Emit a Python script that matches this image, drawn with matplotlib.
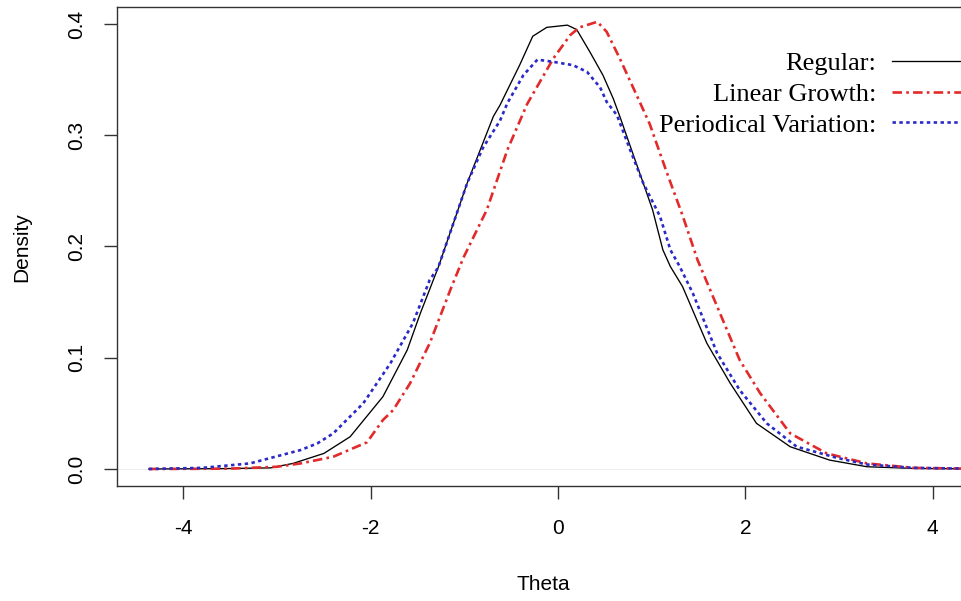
import matplotlib
matplotlib.use("Agg")
import matplotlib.pyplot as plt

## Density curves (x = Theta, y = Density)
reg_x = [-4.37, -3.6, -3.07, -2.83, -2.5, -2.22, -1.87, -1.61, -1.47, -1.28, -0.97, -0.69,
         -0.62, -0.41, -0.27, -0.12, 0.10, 0.20, 0.34, 0.48, 0.59, 0.66, 0.91, 1.01, 1.12, 1.20,
         1.33, 1.59, 1.84, 2.12, 2.48, 2.90, 3.30, 3.8, 4.6]
reg_y = [0, 0.0003, 0.001, 0.005, 0.014, 0.029, 0.065, 0.107, 0.140, 0.181, 0.257, 0.317,
         0.327, 0.363, 0.389, 0.397, 0.399, 0.395, 0.375, 0.354, 0.333, 0.317, 0.257, 0.233, 0.197, 0.182,
         0.164, 0.113, 0.077, 0.041, 0.020, 0.008, 0.002, 0.0005, 0]

lin_x = [-4.37, -3.5, -3.0, -2.75, -2.40, -2.04, -1.87, -1.76, -1.58, -1.37, -1.15, -1.01,
         -0.76, -0.54, -0.33, -0.05, 0.13, 0.23, 0.42, 0.52, 0.66, 0.84, 0.98, 1.16, 1.33,
         1.49, 1.70, 1.94, 2.16, 2.48, 2.87, 3.30, 3.8, 4.6]
lin_y = [0, 0.0003, 0.002, 0.005, 0.011, 0.024, 0.044, 0.053, 0.077, 0.113, 0.161, 0.190,
         0.233, 0.287, 0.328, 0.369, 0.390, 0.397, 0.402, 0.393, 0.369, 0.336, 0.310, 0.267, 0.228,
         0.188, 0.146, 0.098, 0.068, 0.032, 0.014, 0.005, 0.001, 0]

per_x = [-4.37, -3.8, -3.29, -2.75, -2.57, -2.40, -2.08, -1.79, -1.55, -1.37, -1.28, -0.97,
         -0.80, -0.62, -0.54, -0.37, -0.22, -0.05, 0.16, 0.31, 0.45, 0.52, 0.63, 0.77, 0.91, 1.09,
         1.20, 1.30, 1.44, 1.70, 1.94, 2.23, 2.55, 2.98, 3.30, 3.8, 4.6]
per_y = [0, 0.001, 0.005, 0.017, 0.023, 0.032, 0.059, 0.095, 0.131, 0.170, 0.181, 0.257,
         0.289, 0.313, 0.329, 0.354, 0.368, 0.366, 0.363, 0.357, 0.343, 0.330, 0.318, 0.287, 0.257, 0.227,
         0.197, 0.182, 0.158, 0.104, 0.071, 0.041, 0.020, 0.010, 0.004, 0.001, 0]

labels = ["Regular:", "Linear Growth:", "Periodical Variation:"]
xticks = [-4, -2, 0, 2, 4]
yticks = [0.0, 0.1, 0.2, 0.3, 0.4]

plt.rcParams['font.family'] = ['Liberation Sans', 'DejaVu Sans']

fig = plt.figure(figsize=(9.61, 6.01), dpi=100)
ax = fig.add_axes([117/961, 1 - 486/601, (999 - 117)/961, (486 - 7)/601])

ax.axhline(0, color='#eeeeee', lw=0.8, zorder=0)
ax.plot(reg_x, reg_y, color='black', lw=0.95, label=labels[0])
ax.plot(lin_x, lin_y, color='#e32a2a', lw=1.9, linestyle=(0, (3.6, 1.6, 1.0, 1.6)), label=labels[1])
ax.plot(per_x, per_y, color='#2a2ac8', lw=1.9, linestyle=(0, (1.3, 1.3)), label=labels[2])

ax.set_xlim(-4.71, 4.71)
ax.set_ylim(-0.0153, 0.4153)
ax.set_xticks(xticks)
ax.set_xticklabels(['-4', '-2', '0', '2', '4'])
ax.set_yticks(yticks)
ax.set_yticklabels(['0.0', '0.1', '0.2', '0.3', '0.4'], rotation=90, va='center')
ax.tick_params(labelsize=15, length=9.5, width=1.0, color='#333333', direction='out')
ax.tick_params(axis='x', pad=14)
ax.tick_params(axis='y', pad=13)
for s in ax.spines.values():
    s.set_linewidth(1.0)
    s.set_color('#333333')

fig.text(543/961, 1 - 585/601, 'Theta', fontsize=15, ha='center', va='center')
fig.text(22/961, 1 - 247/601, 'Density', fontsize=15, ha='center', va='center', rotation=90)

leg = ax.legend(loc='upper right', bbox_to_anchor=(1011/961, 1 - 51.5/601),
                bbox_transform=fig.transFigure, frameon=False, markerfirst=False,
                alignment='right', handlelength=4.5, handletextpad=0.6, labelspacing=0.28,
                borderpad=0, borderaxespad=0,
                prop={'family': 'Liberation Serif', 'size': 19})

fig.savefig('out.png', dpi=100)
